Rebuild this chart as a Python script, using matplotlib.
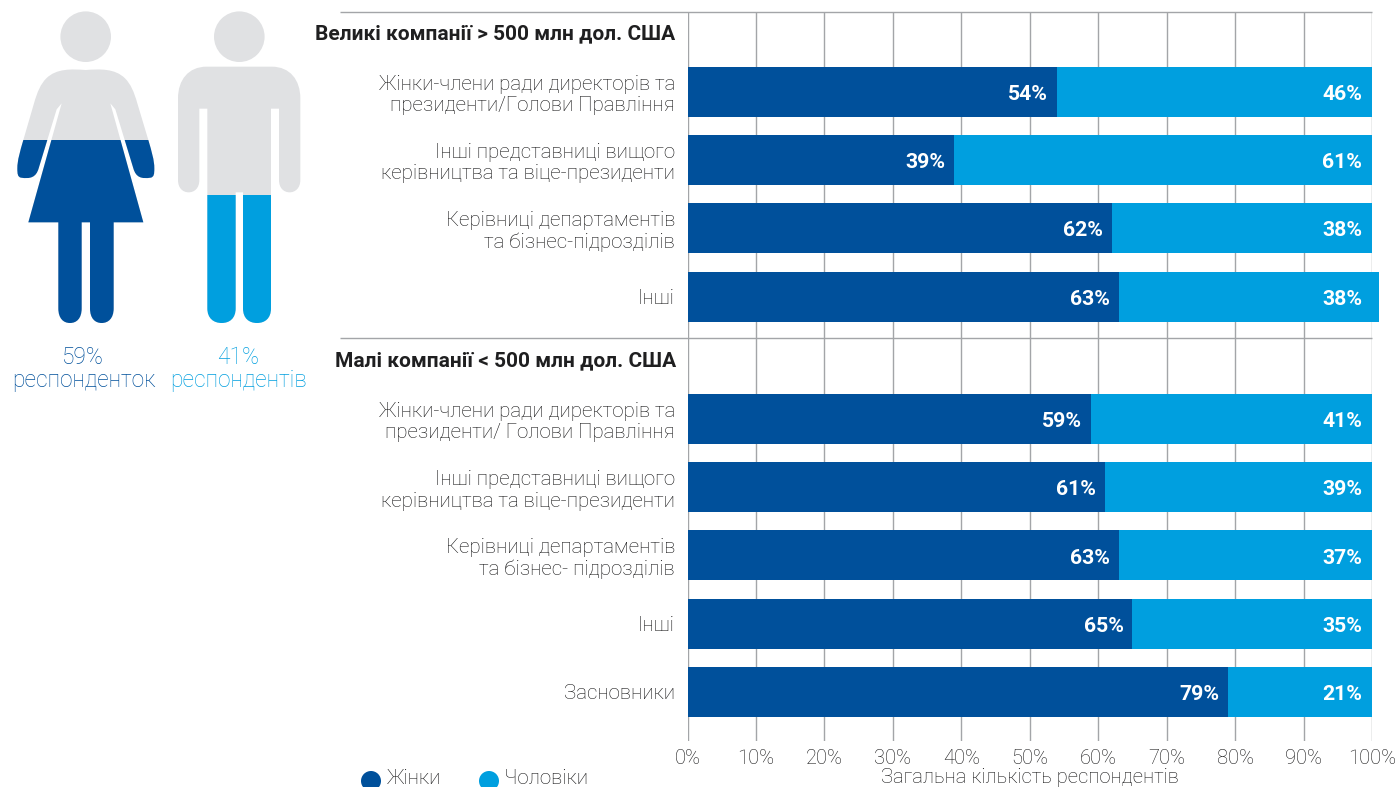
import matplotlib
matplotlib.use("Agg")
import matplotlib.pyplot as plt
from matplotlib.patches import Circle, PathPatch, Rectangle
from matplotlib.path import Path

plt.rcParams['font.family'] = ['Roboto', 'Liberation Sans', 'DejaVu Sans']

W, H = 1398, 787
DARK = '#00509b'
LIGHT = '#009fdf'
GREY = '#e0e1e3'
GRID = '#a3a5a8'
TEXT = '#151516'

big_labels = ['Жінки-члени ради директорів та\nпрезиденти/Голови Правління',
              'Інші представниці вищого\nкерівництва та віце-президенти',
              'Керівниці департаментів\nта бізнес-підрозділів',
              'Інші']
big_women = [54, 39, 62, 63]
big_men = [46, 61, 38, 38]

small_labels = ['Жінки-члени ради директорів та\nпрезиденти/ Голови Правління',
                'Інші представниці вищого\nкерівництва та віце-президенти',
                'Керівниці департаментів\nта бізнес- підрозділів',
                'Інші',
                'Засновники']
small_women = [59, 61, 63, 65, 79]
small_men = [41, 39, 37, 35, 21]

share_women = 59
share_men = 41
pct_ticks = list(range(0, 101, 10))

ROW = 68.25
BAR_H = 50
y_big = [91.8 + i * ROW for i in range(len(big_women))]
y_small = [419 + i * ROW for i in range(len(small_women))]


def smooth_path(cmds):
    # M/L/Q/C commands in 3x units, scaled down to pixels
    verts, codes = [], []
    for c, *pts in cmds:
        code = {'M': Path.MOVETO, 'L': Path.LINETO, 'Q': Path.CURVE3, 'C': Path.CURVE4}[c]
        for p in pts:
            verts.append((p[0] / 3, p[1] / 3))
            codes.append(code)
    verts.append(verts[0])
    codes.append(Path.CLOSEPOLY)
    return Path(verts, codes)


woman = smooth_path([
    ('M', (257, 210)), ('C', (300, 207), (345, 205), (375, 235)),
    ('C', (392, 252), (402, 275), (412, 310)),
    ('L', (445, 420)), ('C', (455, 455), (463, 480), (463, 505)),
    ('C', (463, 522), (462, 531), (452, 533)),
    ('C', (425, 537), (408, 533), (400, 505)),
    ('L', (346, 328)), ('L', (331, 310)),
    ('L', (430, 667)), ('L', (341, 667)), ('L', (341, 925)),
    ('C', (341, 955), (325, 969), (305, 969)),
    ('C', (285, 969), (270, 955), (270, 925)),
    ('L', (270, 667)), ('L', (245, 667)), ('L', (245, 925)),
    ('C', (245, 955), (230, 969), (210, 969)),
    ('C', (190, 969), (175, 955), (175, 925)),
    ('L', (175, 667)), ('L', (85, 667)), ('L', (185, 310)),
    ('L', (170, 328)), ('L', (116, 505)),
    ('C', (108, 533), (90, 537), (63, 533)),
    ('C', (53, 531), (52, 522), (52, 505)),
    ('C', (52, 480), (60, 455), (70, 420)),
    ('L', (102, 310)), ('C', (112, 275), (122, 252), (139, 235)),
    ('C', (169, 205), (215, 207), (257, 210)),
])

man = smooth_path([
    ('M', (620, 200)), ('L', (815, 200)),
    ('C', (870, 200), (901, 240), (901, 295)),
    ('L', (901, 540)), ('C', (901, 565), (885, 577), (869, 577)),
    ('C', (852, 577), (837, 565), (837, 540)),
    ('L', (837, 326)), ('L', (813, 326)), ('L', (813, 925)),
    ('C', (813, 955), (795, 969), (771, 969)),
    ('C', (747, 969), (729, 955), (729, 925)),
    ('L', (729, 577)), ('L', (707, 577)), ('L', (707, 925)),
    ('C', (707, 955), (689, 969), (665, 969)),
    ('C', (641, 969), (622, 955), (622, 925)),
    ('L', (622, 326)), ('L', (598, 326)), ('L', (598, 540)),
    ('C', (598, 565), (583, 577), (566, 577)),
    ('C', (549, 577), (534, 565), (534, 540)),
    ('L', (534, 295)), ('C', (534, 240), (565, 200), (620, 200)),
])

fig = plt.figure(figsize=(W / 100, H / 100), dpi=100)

# overlay in pixel coordinates for the pictograms, headers and legend
page = fig.add_axes([0, 0, 1, 1])
page.set_xlim(0, W)
page.set_ylim(H, 0)
page.axis('off')

# bar axes, y runs in pixels so the two groups can sit at their own offsets
x0, x1, top, bottom = 687.5, 1372, 12, 741
ax = fig.add_axes([x0 / W, 1 - bottom / H, (x1 - x0) / W, (bottom - top) / H])
ax.set_xlim(0, 100)
ax.set_ylim(bottom, top)
ax.patch.set_alpha(0)
for s in ax.spines.values():
    s.set_visible(False)
ax.grid(axis='x', color=GRID, lw=1.0, zorder=0)
ax.set_axisbelow(True)
ax.set_xticks(pct_ticks)
ax.set_xticklabels([f'{t}%' for t in pct_ticks], fontsize=14.5, color=TEXT, weight='light')
ax.tick_params(axis='x', length=0, pad=5.5)
ax.tick_params(axis='y', length=0, pad=9)
ax.set_yticks(y_big + y_small)
ax.set_yticklabels(big_labels + small_labels, fontsize=14.75, color=TEXT, linespacing=1.16, weight='light')

for ys, women, men in [(y_big, big_women, big_men), (y_small, small_women, small_men)]:
    ax.barh(ys, women, height=BAR_H, color=DARK, zorder=2)
    ax.barh(ys, men, left=women, height=BAR_H, color=LIGHT, zorder=2, clip_on=False)
    for y, a, b in zip(ys, women, men):
        ax.annotate(f'{a}%', (a, y + 0.7), xytext=(-6.5, 0), textcoords='offset points',
                    ha='right', va='center_baseline', color='white', fontsize=15.3, weight='bold', zorder=3)
        ax.annotate(f'{b}%', (100, y + 0.7), xytext=(-7, 0), textcoords='offset points',
                    ha='right', va='center_baseline', color='white', fontsize=15.3, weight='bold', zorder=3)

# horizontal rules above each group
for y in (12, 338):
    page.plot([340, x1], [y, y], color=GRID, lw=1.0, solid_capstyle='butt')

page.text(675, 33.5, 'Великі компанії > 500 млн дол. США', ha='right', va='center',
          fontsize=15, weight='bold', color='#1f1f20')
page.text(676, 361, 'Малі компанії < 500 млн дол. США', ha='right', va='center',
          fontsize=15, weight='bold', color='#1f1f20')

# pictograms filled from the feet up to the respondent share
fig_top, fig_bottom = 12, 323
for path, head_x, share, color in [(woman, 85.7, share_women, DARK), (man, 239.3, share_men, LIGHT)]:
    level = fig_bottom - (fig_bottom - fig_top) * share / 100
    page.add_patch(Circle((head_x, 36.7), 25.3, color=GREY, lw=0))
    page.add_patch(PathPatch(path, facecolor=GREY, lw=0))
    filled = PathPatch(path, facecolor=color, lw=0)
    page.add_patch(filled)
    filled.set_clip_path(Rectangle((0, level), 320, fig_bottom - level + 2, transform=page.transData))

page.text(83, 357, f'{share_women}%', ha='center', va='center', fontsize=16.4, color=DARK, weight='light')
page.text(84, 381, 'респонденток', ha='center', va='center', fontsize=16.4, color=DARK, weight='light')
page.text(238, 357, f'{share_men}%', ha='center', va='center', fontsize=16.4, color=LIGHT, weight='light')
page.text(239, 381, 'респондентів', ha='center', va='center', fontsize=16.4, color=LIGHT, weight='light')

# legend and axis caption along the lower edge
page.add_patch(Circle((371, 781), 10, color=DARK, lw=0))
page.text(387, 784, 'Жінки', ha='left', va='baseline', fontsize=14.8, color=TEXT, weight='light')
page.add_patch(Circle((489, 781), 10, color=LIGHT, lw=0))
page.text(504, 784, 'Чоловіки', ha='left', va='baseline', fontsize=14.8, color=TEXT, weight='light')
page.text(1030, 783, 'Загальна кількість респондентів', ha='center', va='baseline',
          fontsize=14.6, color=TEXT, weight='light')

fig.savefig('out.png', dpi=100)
